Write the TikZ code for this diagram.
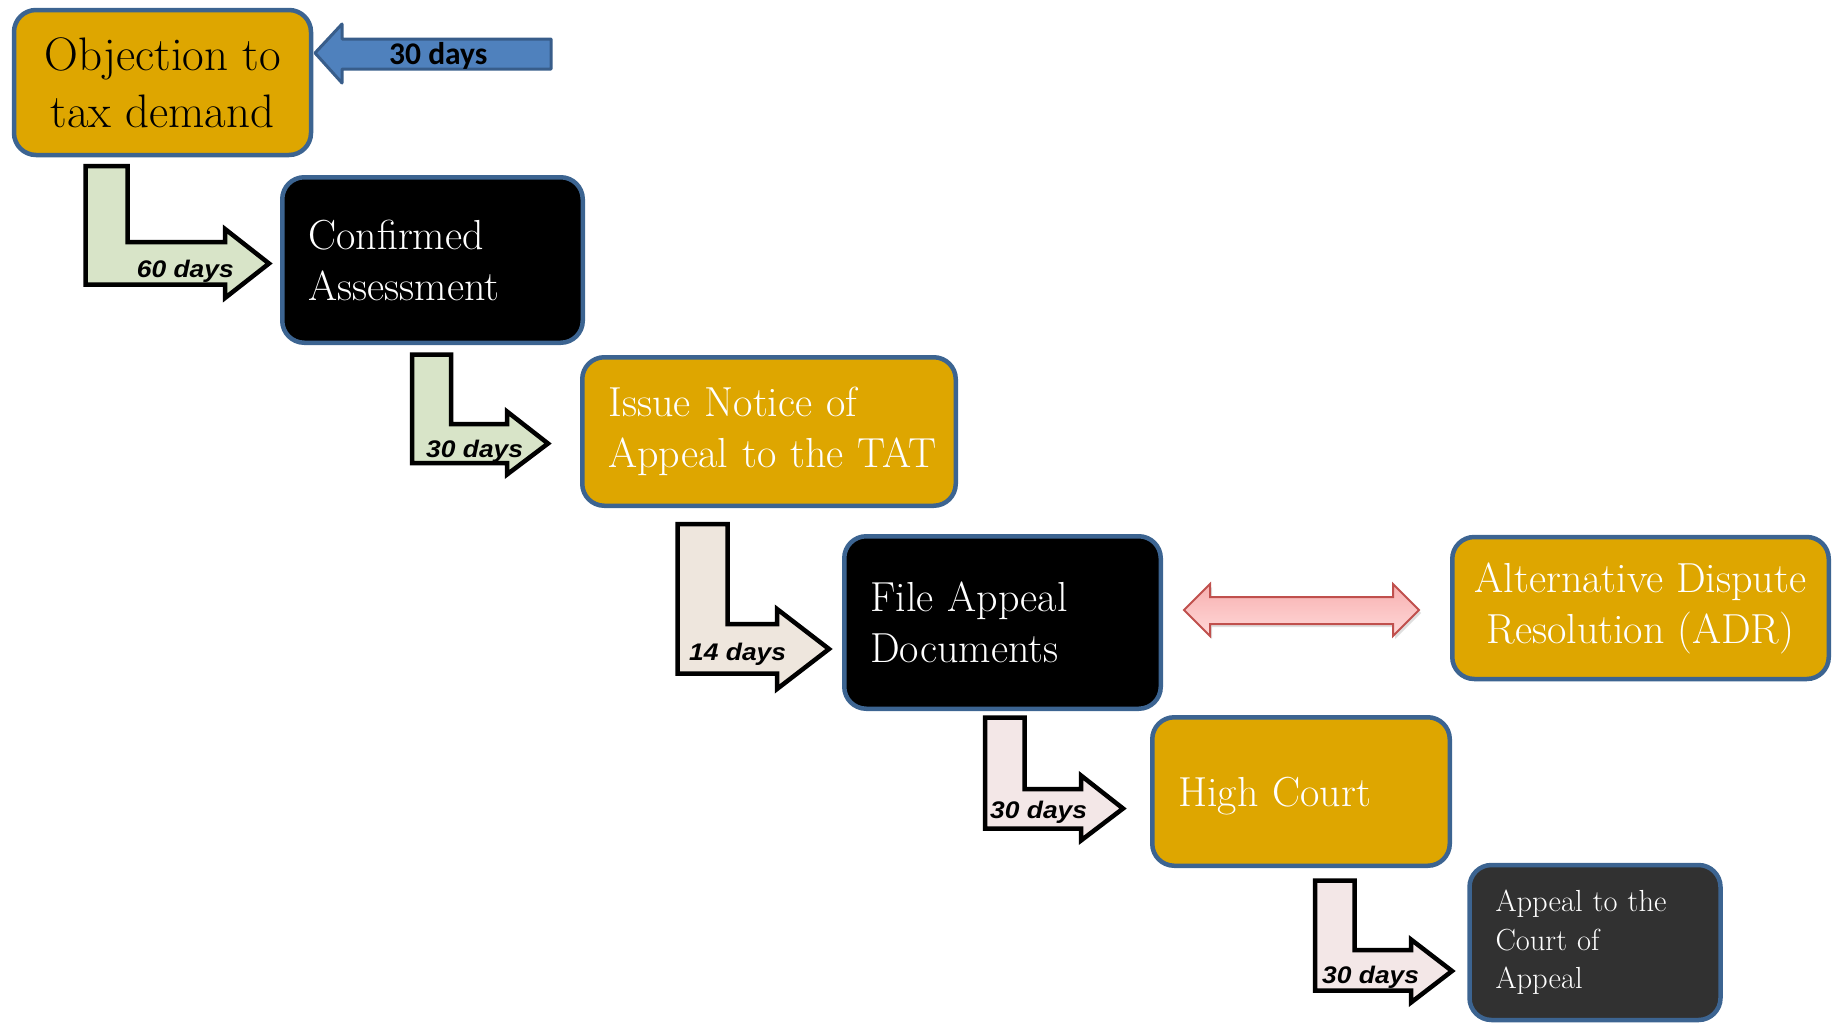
\documentclass[tikz,border=0pt]{standalone}
\usepackage{fontspec}
\newfontfamily\lblfont{Liberation Sans}[FakeStretch=1.1]
\newfontfamily\calfont{Carlito}
\usetikzlibrary{shadows}
\definecolor{gold}{RGB}{222,166,0}
\definecolor{bordblue}{RGB}{60,100,145}
\definecolor{darkgraybox}{RGB}{49,49,49}
\definecolor{greenfill}{RGB}{216,228,200}
\definecolor{beigefill}{RGB}{238,230,221}
\definecolor{pinkfill}{RGB}{243,231,231}
\definecolor{bluefill}{RGB}{79,129,189}
\definecolor{blueline}{RGB}{56,93,138}
\definecolor{redline}{RGB}{192,80,77}
\definecolor{pinktop}{RGB}{247,176,176}
\definecolor{pinkbot}{RGB}{255,216,216}
\begin{document}
\begin{tikzpicture}[x=1pt,y=-1pt,
  box/.style={draw=bordblue, line width=4.5pt, rounded corners=22pt, inner ysep=0pt},
  goldbox/.style={box, fill=gold},
  blackbox/.style={box, fill=black, text=white},
  leftbox/.style={align=left, inner xsep=26pt},
  mainfont/.style={font=\fontsize{42}{51}\selectfont},
  bentarrow/.style={draw=black, line width=4.5pt, miter limit=10},
  daylabel/.style={font=\lblfont\bfseries\itshape\fontsize{24}{27}\selectfont, inner sep=0pt, anchor=base west},
]
\useasboundingbox (0,0) rectangle (1839,1023);

% boxes
\node[goldbox, minimum width=297pt, minimum height=145pt, align=center,
      font=\fontsize{47}{57}\selectfont] (obj) at (162.5,82.5) {Objection to\\tax demand};
\node[blackbox, leftbox, mainfont, text width=248.5pt, minimum height=165.5pt] (conf) at (432.5,260)
  {\mbox{Confirmed}\\\mbox{Assessment}};
\node[goldbox, leftbox, mainfont, text=white, text width=321.5pt, minimum height=148.5pt] (issue) at (769,431.5)
  {\mbox{Issue Notice of}\\\mbox{Appeal to the TAT}};
\node[blackbox, leftbox, mainfont, text width=264.5pt, minimum height=172.5pt] (file) at (1002.5,622.5)
  {\mbox{File Appeal}\\\mbox{Documents}};
\node[goldbox, mainfont, text=white, align=center, minimum width=376.5pt, minimum height=142pt] (adr) at (1640.5,608)
  {Alternative Dispute\\Resolution (ADR)};
\node[goldbox, leftbox, mainfont, text=white, text width=245.5pt, minimum height=148.5pt, text depth=0pt] (high) at (1301,791.5)
  {\mbox{High Court}};
\node[box, fill=darkgraybox, text=white, leftbox, font=\fontsize{30.5}{38.5}\selectfont, text width=199pt, minimum height=155pt] (appeal) at (1595,942.5)
  {\mbox{Appeal to the}\\\mbox{Court of}\\\mbox{Appeal}};

% blue arrow into objection
\draw[fill=bluefill, draw=blueline, line width=3pt, line join=round]
  (315,53) -- (342,24) -- (342,39) -- (551,39) -- (551,69) -- (342,69) -- (342,83) -- cycle;
\node[font=\calfont\bfseries\fontsize{31.5}{36}\selectfont, anchor=base west, inner sep=0pt] (lbl0) at (389,64) {30 days};

% double arrow file <-> adr
\path[draw=redline, line width=2pt, line join=miter, top color=pinktop, bottom color=pinkbot,
      drop shadow={opacity=0.25, shadow xshift=2pt, shadow yshift=-3pt}]
  (1184,610) -- (1210,584) -- (1210,597) -- (1393,597) -- (1393,584) -- (1419,610)
  -- (1393,636) -- (1393,624) -- (1210,624) -- (1210,636) -- cycle;

% bent arrows
\draw[bentarrow, fill=greenfill]
  (85.5,166) -- (127.5,166) -- (127.5,242) -- (225,242) -- (225,229) -- (269,263.5)
  -- (225,298) -- (225,284.5) -- (85.5,284.5) -- cycle;
\node[daylabel] (lbl1) at (136.7,277) {60 days};

\draw[bentarrow, fill=greenfill]
  (412,354.5) -- (451,354.5) -- (451,424) -- (507,424) -- (507,411.5) -- (548,443.5)
  -- (507,474.5) -- (507,463) -- (412,463) -- cycle;
\node[daylabel] (lbl2) at (426,457) {30 days};

\draw[bentarrow, fill=beigefill]
  (677.5,524) -- (727.5,524) -- (727.5,624) -- (777,624) -- (777,609) -- (829,649)
  -- (777,689) -- (777,673.5) -- (677.5,673.5) -- cycle;
\node[daylabel] (lbl3) at (689,660) {14 days};

\draw[bentarrow, fill=pinkfill]
  (985,717.5) -- (1024.5,717.5) -- (1024.5,789) -- (1081,789) -- (1081,775.5) -- (1123,808.5)
  -- (1081,840.5) -- (1081,828.5) -- (985,828.5) -- cycle;
\node[daylabel] (lbl4) at (990,818) {30 days};

\draw[bentarrow, fill=pinkfill]
  (1315,880.5) -- (1354.5,880.5) -- (1354.5,950) -- (1411,950) -- (1411,939.5) -- (1452,971)
  -- (1411,1002.5) -- (1411,990.5) -- (1315,990.5) -- cycle;
\node[daylabel] (lbl5) at (1322,983) {30 days};
\end{tikzpicture}
\end{document}
